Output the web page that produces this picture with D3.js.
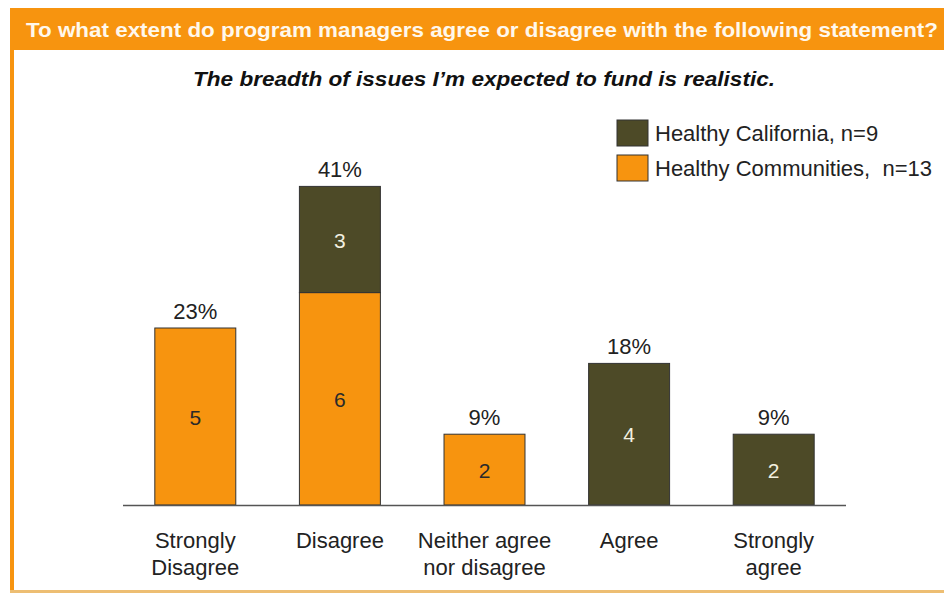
<!DOCTYPE html>
<html><head><meta charset="utf-8">
<script src="https://cdn.jsdelivr.net/npm/d3@7"></script>
<style>body{margin:0;background:#fff}svg{display:block}</style>
</head><body>
<script>
const categories = [["Strongly","Disagree"],["Disagree"],["Neither agree","nor disagree"],["Agree"],["Strongly","agree"]];
const catKeys = ["Strongly Disagree","Disagree","Neither agree nor disagree","Agree","Strongly agree"];
const communities = [5, 6, 2, 0, 0];
const california = [0, 3, 0, 4, 2];
const percentLabels = ["23%","41%","9%","18%","9%"];
const seriesNames = ["Healthy California, n=9","Healthy Communities,  n=13"];
const title = "To what extent do program managers agree or disagree with the following statement?";
const subtitle = "The breadth of issues I\u2019m expected to fund is realistic.";

const W = 944, H = 594;
const ORANGE = "#F7940F", OLIVE = "#4D4A27";
const FONT = "Liberation Sans, Arial, sans-serif";
const svg = d3.select("body").append("svg").attr("width", W).attr("height", H);

// frame
svg.append("rect").attr("x", 10).attr("y", 8).attr("width", W - 10).attr("height", 42).attr("fill", ORANGE);
svg.append("rect").attr("x", 10).attr("y", 8).attr("width", 4).attr("height", 584).attr("fill", ORANGE);
svg.append("rect").attr("x", 10).attr("y", 590).attr("width", W - 10).attr("height", 3).attr("fill", "#EDBE73");

svg.append("text").attr("x", 26).attr("y", 37).attr("fill", "#FFF8EC")
  .attr("font-family", FONT).attr("font-weight", "bold").attr("font-size", 21)
  .attr("textLength", 912).attr("lengthAdjust", "spacingAndGlyphs").text(title);
svg.append("text").attr("x", 484).attr("y", 86).attr("text-anchor", "middle").attr("fill", "#111")
  .attr("font-family", FONT).attr("font-weight", "bold").attr("font-style", "italic")
  .attr("font-size", 21).attr("textLength", 582).attr("lengthAdjust", "spacingAndGlyphs").text(subtitle);

const x = d3.scaleBand().domain(catKeys).range([123, 846]).paddingInner(0.44).paddingOuter(0.22);
const y = d3.scaleLinear().domain([0, 10]).range([505, 151]);

const data = catKeys.map((k, i) => ({key: k, communities: communities[i], california: california[i]}));
const stack = d3.stack().keys(["communities", "california"])(data);
const colors = {communities: ORANGE, california: OLIVE};
const textColors = {communities: "#2a2a2a", california: "#F2F0E0"};

stack.forEach(layer => {
  const g = svg.append("g");
  layer.forEach(d => {
    const v = d[1] - d[0];
    if (v <= 0) return;
    g.append("rect").attr("x", x(d.data.key)).attr("y", y(d[1]))
      .attr("width", x.bandwidth()).attr("height", y(d[0]) - y(d[1]))
      .attr("fill", colors[layer.key]).attr("stroke", "#333").attr("stroke-width", 1);
    g.append("text").attr("x", x(d.data.key) + x.bandwidth() / 2).attr("y", (y(d[0]) + y(d[1])) / 2 + 8)
      .attr("text-anchor", "middle").attr("fill", textColors[layer.key])
      .attr("font-family", FONT).attr("font-size", 21).text(v);
  });
});

// axis line
svg.append("line").attr("x1", 123).attr("x2", 846).attr("y1", y(0) + 0.5).attr("y2", y(0) + 0.5)
  .attr("stroke", "#555").attr("stroke-width", 1.5);

// percent labels
catKeys.forEach((k, i) => {
  const tot = communities[i] + california[i];
  svg.append("text").attr("x", x(k) + x.bandwidth() / 2).attr("y", y(tot) - 9)
    .attr("text-anchor", "middle").attr("fill", "#222")
    .attr("font-family", FONT).attr("font-size", 22).text(percentLabels[i]);
});

// category labels
catKeys.forEach((k, i) => {
  const t = svg.append("text").attr("x", x(k) + x.bandwidth() / 2).attr("y", 548)
    .attr("text-anchor", "middle").attr("fill", "#222")
    .attr("font-family", FONT).attr("font-size", 22);
  categories[i].forEach((line, j) => {
    t.append("tspan").attr("x", x(k) + x.bandwidth() / 2).attr("dy", j === 0 ? 0 : 27).text(line);
  });
});

// legend
const legColors = [OLIVE, ORANGE];
seriesNames.forEach((n, i) => {
  const ly = 120 + i * 35;
  svg.append("rect").attr("x", 617).attr("y", ly).attr("width", 31).attr("height", 26)
    .attr("fill", legColors[i]).attr("stroke", "#333").attr("stroke-width", 1);
  svg.append("text").attr("x", 655).attr("y", ly + 21).attr("fill", "#222")
    .attr("font-family", FONT).attr("font-size", 22).attr("xml:space", "preserve").text(n);
});
</script>
</body></html>
